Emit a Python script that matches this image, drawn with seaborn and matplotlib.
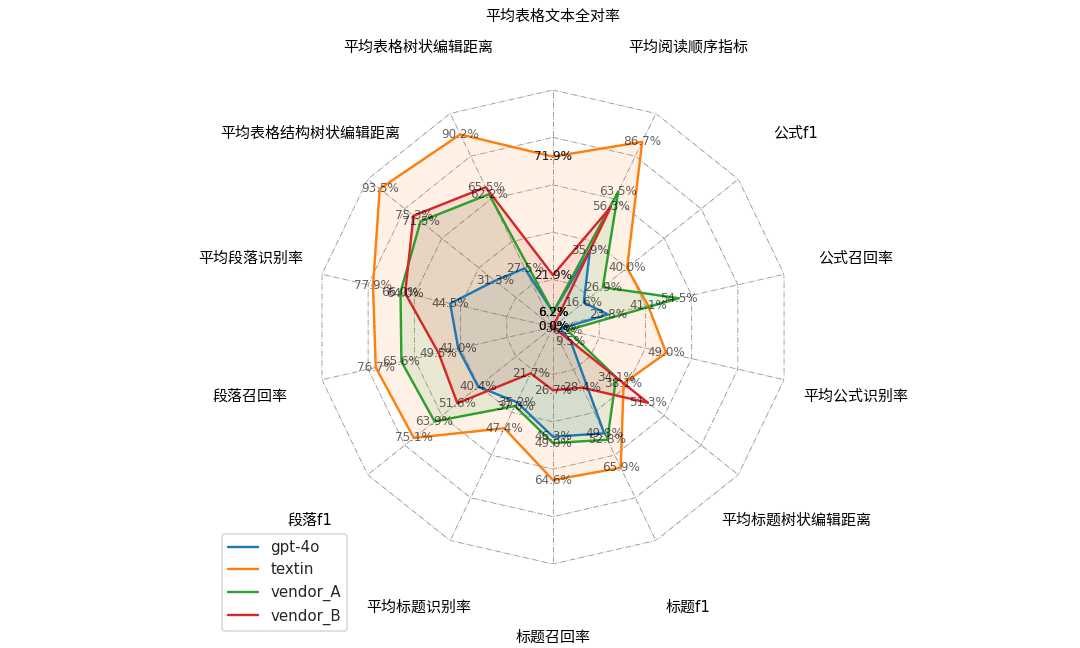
import numpy as np
import matplotlib
matplotlib.use("Agg")
import matplotlib.pyplot as plt
import seaborn as sns

# 指标（顺时针，从正上方开始）
categories = [
    "平均表格文本全对率", "平均阅读顺序指标", "公式f1", "公式召回率",
    "平均公式识别率", "平均标题树状编辑距离", "标题f1", "标题召回率",
    "平均标题识别率", "段落f1", "段落召回率", "平均段落识别率",
    "平均表格结构树状编辑距离", "平均表格树状编辑距离",
]

series_names = ["gpt-4o", "textin", "vendor_A", "vendor_B"]

# 数值（百分比）
gpt_4o = [6.2, 35.9, 16.6, 23.8, 3.2, 9.5, 49.8, 46.3, 35.2, 40.4, 41.0, 44.5, 31.3, 27.5]
textin = [71.9, 86.7, 40.0, 41.1, 49.0, 38.1, 65.9, 64.6, 47.4, 75.1, 76.7, 77.9, 93.5, 90.2]
vendor_A = [6.2, 63.5, 26.9, 54.5, 6.2, 34.1, 52.8, 49.0, 37.0, 63.9, 65.6, 66.0, 71.5, 62.2]
vendor_B = [21.9, 56.3, 0.0, 0.0, 0.0, 51.3, 28.4, 26.7, 21.7, 51.6, 49.5, 64.0, 75.3, 65.5]

grid_levels = [0.2, 0.4, 0.6, 0.8, 1.0]

sns.set_theme(style="white")
plt.rcParams["font.family"] = ["DejaVu Sans", "Noto Sans CJK SC"]
plt.rcParams["axes.unicode_minus"] = False

colors = sns.color_palette("tab10", 4)

n = len(categories)
angles = np.linspace(0, 2 * np.pi, n, endpoint=False).tolist()
angles_closed = angles + angles[:1]

fig = plt.figure(figsize=(10, 6), dpi=108)
ax = fig.add_axes([316 / 1080, 84 / 648, 474 / 1080, 474 / 648], polar=True)
ax.set_theta_offset(np.pi / 2)
ax.set_theta_direction(-1)
ax.set_facecolor("white")

# 多边形网格
for lvl in grid_levels:
    ax.plot(angles_closed, [lvl] * (n + 1), color="grey", linestyle="-.",
            linewidth=0.6, alpha=0.8, zorder=1)
for a in angles:
    ax.plot([a, a], [0, 1], color="grey", linestyle="-.", linewidth=0.6,
            alpha=0.8, zorder=1)

all_values = [gpt_4o, textin, vendor_A, vendor_B]
for name, vals, c in zip(series_names, all_values, colors):
    r = [v / 100 for v in vals]
    r_closed = r + r[:1]
    ax.plot(angles_closed, r_closed, color=c, linewidth=1.6, label=name, zorder=3)
    ax.fill(angles_closed, r_closed, color=c, alpha=0.1, zorder=2)
    for a, v in zip(angles_closed, vals + vals[:1]):
        ax.text(a, v / 100, f"{v:.1f}%", ha="center", va="center",
                fontsize=8, color="black", alpha=0.6, zorder=4)

# 指标名称
for a, cat in zip(angles, categories):
    ax.text(a, 1.31, cat, ha="center", va="center", fontsize=10,
            color="black", clip_on=False)

ax.set_ylim(0, 1)
ax.set_xticks([])
ax.set_yticks([])
ax.grid(False)
ax.spines["polar"].set_visible(False)

handles, labels = ax.get_legend_handles_labels()
fig.legend(handles, labels, loc="upper right",
           bbox_to_anchor=(347 / 1080, 1 - 534 / 648),
           borderaxespad=0, fontsize=10, frameon=True)

fig.savefig("out.png", dpi=108)
